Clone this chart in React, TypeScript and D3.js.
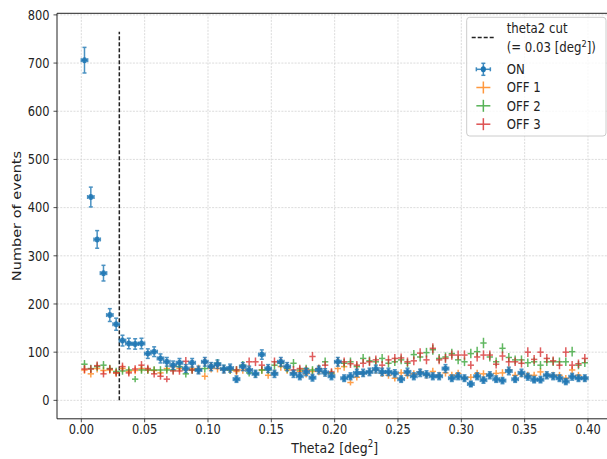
import React from "react";
import * as d3 from "d3";

const binWidth = 0.005;
const thetaCut = 0.03;
const cutLineTop = 765;
const xTicks = [0, 0.05, 0.1, 0.15, 0.2, 0.25, 0.3, 0.35, 0.4];
const yTicks = [0, 100, 200, 300, 400, 500, 600, 700, 800];

const onCounts = [706, 422, 334, 264, 177, 158, 124, 118, 117, 118, 97, 101, 87, 80, 73, 78, 66, 78, 63, 80, 70, 75, 65, 67, 44, 70, 63, 55, 95, 66, 55, 80, 70, 55, 50, 59, 47, 63, 58, 50, 80, 46, 50, 57, 57, 59, 65, 59, 59, 56, 44, 59, 50, 57, 54, 50, 50, 66, 46, 50, 46, 34, 50, 42, 52, 44, 41, 61, 44, 57, 49, 43, 43, 52, 50, 46, 39, 49, 46, 46];
const off1Counts = [63, 55, 66, 62, 63, 57, 66, 60, 62, 66, 63, 62, 57, 66, 70, 66, 63, 66, 66, 50, 66, 66, 63, 63, 60, 63, 63, 55, 63, 52, 57, 70, 63, 57, 60, 55, 60, 60, 57, 55, 66, 70, 37, 48, 56, 59, 63, 56, 52, 46, 57, 52, 55, 59, 52, 60, 52, 57, 52, 56, 46, 48, 56, 55, 52, 56, 57, 63, 52, 55, 52, 52, 59, 52, 52, 52, 46, 63, 52, 46];
const off2Counts = [75, 66, 70, 73, 66, 60, 61, 63, 44, 63, 63, 63, 63, 63, 63, 70, 55, 63, 63, 66, 70, 77, 66, 63, 63, 73, 57, 55, 63, 63, 73, 77, 66, 77, 63, 66, 63, 66, 80, 57, 80, 77, 80, 70, 87, 82, 80, 87, 77, 80, 84, 77, 95, 90, 99, 105, 87, 90, 97, 84, 80, 97, 101, 119, 90, 80, 108, 89, 84, 84, 78, 80, 73, 80, 80, 80, 80, 101, 73, 78];
const off3Counts = [65, 65, 72, 55, 65, 57, 70, 57, 65, 73, 66, 55, 50, 44, 61, 61, 81, 63, 63, 80, 70, 73, 65, 66, 63, 70, 80, 80, 73, 66, 80, 80, 70, 63, 66, 63, 91, 66, 73, 59, 80, 80, 76, 73, 77, 80, 84, 73, 84, 87, 88, 80, 82, 98, 84, 108, 84, 87, 94, 94, 94, 73, 90, 94, 94, 75, 92, 80, 80, 77, 100, 85, 100, 87, 82, 73, 100, 73, 76, 87];

const seriesNames = ["ON", "OFF 1", "OFF 2", "OFF 3"];
const seriesColors = ["#1f77b4", "#ff7f0e", "#2ca02c", "#d62728"];

const W = 607;
const H = 459;
const left = 57;
const right = 612.3;
const top = 13.3;
const bottom = 418.8;
const FONT = "DejaVu Sans, sans-serif";
const SX = 0.865;
const TXT = "#222";

function HText(props: {
  x: number;
  y: number;
  size: number;
  anchor?: string;
  dy?: string;
  children: React.ReactNode;
}) {
  return (
    <text
      transform={`translate(${props.x},${props.y}) scale(${SX},1)`}
      fontSize={props.size}
      textAnchor={props.anchor || "start"}
      dy={props.dy}
      fill={TXT}
    >
      {props.children}
    </text>
  );
}

export default function App() {
  const x = d3.scaleLinear().domain([-0.0192, 0.4192]).range([left, right]);
  const y = d3.scaleLinear().domain([-38.3, 803.3]).range([bottom, top]);
  const centers = onCounts.map((_, i) => binWidth * (i + 0.5));

  const offSeries = [off1Counts, off2Counts, off3Counts];

  const cross = (cx: number, n: number, color: string, key: string) => {
    const xc = x(cx);
    const yc = y(n);
    const e = Math.sqrt(n);
    return (
      <g key={key} stroke={color} strokeWidth={1.5} opacity={0.75}>
        <line x1={x(cx - binWidth / 2)} x2={x(cx + binWidth / 2)} y1={yc} y2={yc} />
        <line x1={xc} x2={xc} y1={y(n - e)} y2={y(n + e)} />
      </g>
    );
  };

  const onMark = (cx: number, n: number, key: string) => {
    const xc = x(cx);
    const yc = y(n);
    const e = Math.sqrt(n);
    const c = seriesColors[0];
    return (
      <g key={key}>
        <g stroke={c} strokeWidth={1.5} opacity={0.8}>
          <line x1={x(cx - binWidth / 2)} x2={x(cx + binWidth / 2)} y1={yc} y2={yc} />
          <line x1={xc} x2={xc} y1={y(n - e)} y2={y(n + e)} />
          <line x1={xc - 2} x2={xc + 2} y1={y(n - e)} y2={y(n - e)} />
          <line x1={xc - 2} x2={xc + 2} y1={y(n + e)} y2={y(n + e)} />
          <line x1={x(cx - binWidth / 2)} x2={x(cx - binWidth / 2)} y1={yc - 2} y2={yc + 2} />
          <line x1={x(cx + binWidth / 2)} x2={x(cx + binWidth / 2)} y1={yc - 2} y2={yc + 2} />
        </g>
        <ellipse cx={xc} cy={yc} rx={3 * SX} ry={3} fill={c} opacity={0.9} />
      </g>
    );
  };

  const legX = 466.7;
  const legY = 17.3;
  const legW = 606 - legX;
  const legH = 136 - legY;
  const hx0 = 471.7;
  const hx1 = 495;
  const hc = (hx0 + hx1) / 2;
  const textX = 506.7;
  const rowsY = [69.3, 87.5, 105.8, 124.2];
  const tickSize = 13.2;
  const legSize = 13.6;
  const labSize = 14.5;

  return (
    <svg width={W} height={H} style={{ position: "absolute", left: 0, top: 0, background: "#fff" }} fontFamily={FONT}>
      <rect x={0} y={0} width={W} height={H} fill="#fff" />
      {/* grid */}
      <g stroke="#b0b0b0" strokeWidth={0.8} strokeDasharray="2,1.3" opacity={0.55}>
        {xTicks.map((t) => (
          <line key={"gx" + t} x1={x(t)} x2={x(t)} y1={top} y2={bottom} />
        ))}
        {yTicks.map((t) => (
          <line key={"gy" + t} x1={left} x2={right} y1={y(t)} y2={y(t)} />
        ))}
      </g>
      {/* cut line */}
      <line x1={x(thetaCut)} x2={x(thetaCut)} y1={y(0)} y2={y(cutLineTop)} stroke="#222" strokeWidth={1.5} strokeDasharray="4,2" />
      {/* OFF series */}
      {offSeries.map((arr, s) => (
        <g key={"s" + s}>{arr.map((n, i) => cross(centers[i], n, seriesColors[s + 1], `o${s}-${i}`))}</g>
      ))}
      {/* ON series */}
      <g>{onCounts.map((n, i) => onMark(centers[i], n, "on" + i))}</g>
      {/* spines */}
      <g stroke="#222" strokeWidth={1} fill="none">
        <line x1={left} x2={left} y1={top} y2={bottom} />
        <line x1={left} x2={right} y1={bottom} y2={bottom} />
        <line x1={left} x2={right} y1={top} y2={top} />
        <line x1={right} x2={right} y1={top} y2={bottom} />
      </g>
      {/* x ticks */}
      {xTicks.map((t) => (
        <g key={"xt" + t}>
          <line x1={x(t)} x2={x(t)} y1={bottom} y2={bottom + 3.5} stroke="#222" strokeWidth={0.8} />
          <HText x={x(t)} y={434} size={tickSize} anchor="middle">{d3.format(".2f")(t)}</HText>
        </g>
      ))}
      {yTicks.map((t) => (
        <g key={"yt" + t}>
          <line x1={left - 3.5} x2={left} y1={y(t)} y2={y(t)} stroke="#222" strokeWidth={0.8} />
          <HText x={49.5} y={y(t)} size={tickSize} anchor="end" dy="0.36em">{t}</HText>
        </g>
      ))}
      {/* axis labels */}
      <HText x={(left + right) / 2} y={452.5} size={labSize} anchor="middle">
        Theta2 [deg<tspan dy={-5.5} fontSize={10}>2</tspan><tspan dy={5.5}>]</tspan>
      </HText>
      <text
        transform={`translate(21,${(top + bottom) / 2}) rotate(-90) scale(1,${SX})`}
        fontSize={labSize}
        textAnchor="middle"
        fill={TXT}
      >
        Number of events
      </text>
      {/* legend */}
      <rect x={legX} y={legY} width={legW} height={legH} rx={3} fill="#fff" fillOpacity={0.8} stroke="#ccc" strokeWidth={1} />
      <line x1={hx0} x2={hx1} y1={37.5} y2={37.5} stroke="#222" strokeWidth={1.5} strokeDasharray="4,2" />
      <HText x={textX} y={28.3} size={legSize} dy="0.36em">theta2 cut</HText>
      <HText x={textX} y={46.7} size={legSize} dy="0.36em">
        (= 0.03 [deg<tspan dy={-5} fontSize={9.5}>2</tspan><tspan dy={5}>])</tspan>
      </HText>
      {seriesNames.map((name, s) => {
        const ry = rowsY[s];
        const c = seriesColors[s];
        return (
          <g key={"leg" + s}>
            <g stroke={c} strokeWidth={1.5} opacity={s === 0 ? 0.85 : 0.8}>
              <line x1={hc - 7} x2={hc + 7} y1={ry} y2={ry} />
              <line x1={hc} x2={hc} y1={ry - 6} y2={ry + 6} />
              {s === 0 && (
                <>
                  <line x1={hc - 2} x2={hc + 2} y1={ry - 6} y2={ry - 6} />
                  <line x1={hc - 2} x2={hc + 2} y1={ry + 6} y2={ry + 6} />
                  <line x1={hc - 7} x2={hc - 7} y1={ry - 2} y2={ry + 2} />
                  <line x1={hc + 7} x2={hc + 7} y1={ry - 2} y2={ry + 2} />
                </>
              )}
            </g>
            {s === 0 && <ellipse cx={hc} cy={ry} rx={3 * SX} ry={3} fill={c} />}
            <HText x={textX} y={ry} size={legSize} dy="0.36em">{name}</HText>
          </g>
        );
      })}
    </svg>
  );
}
